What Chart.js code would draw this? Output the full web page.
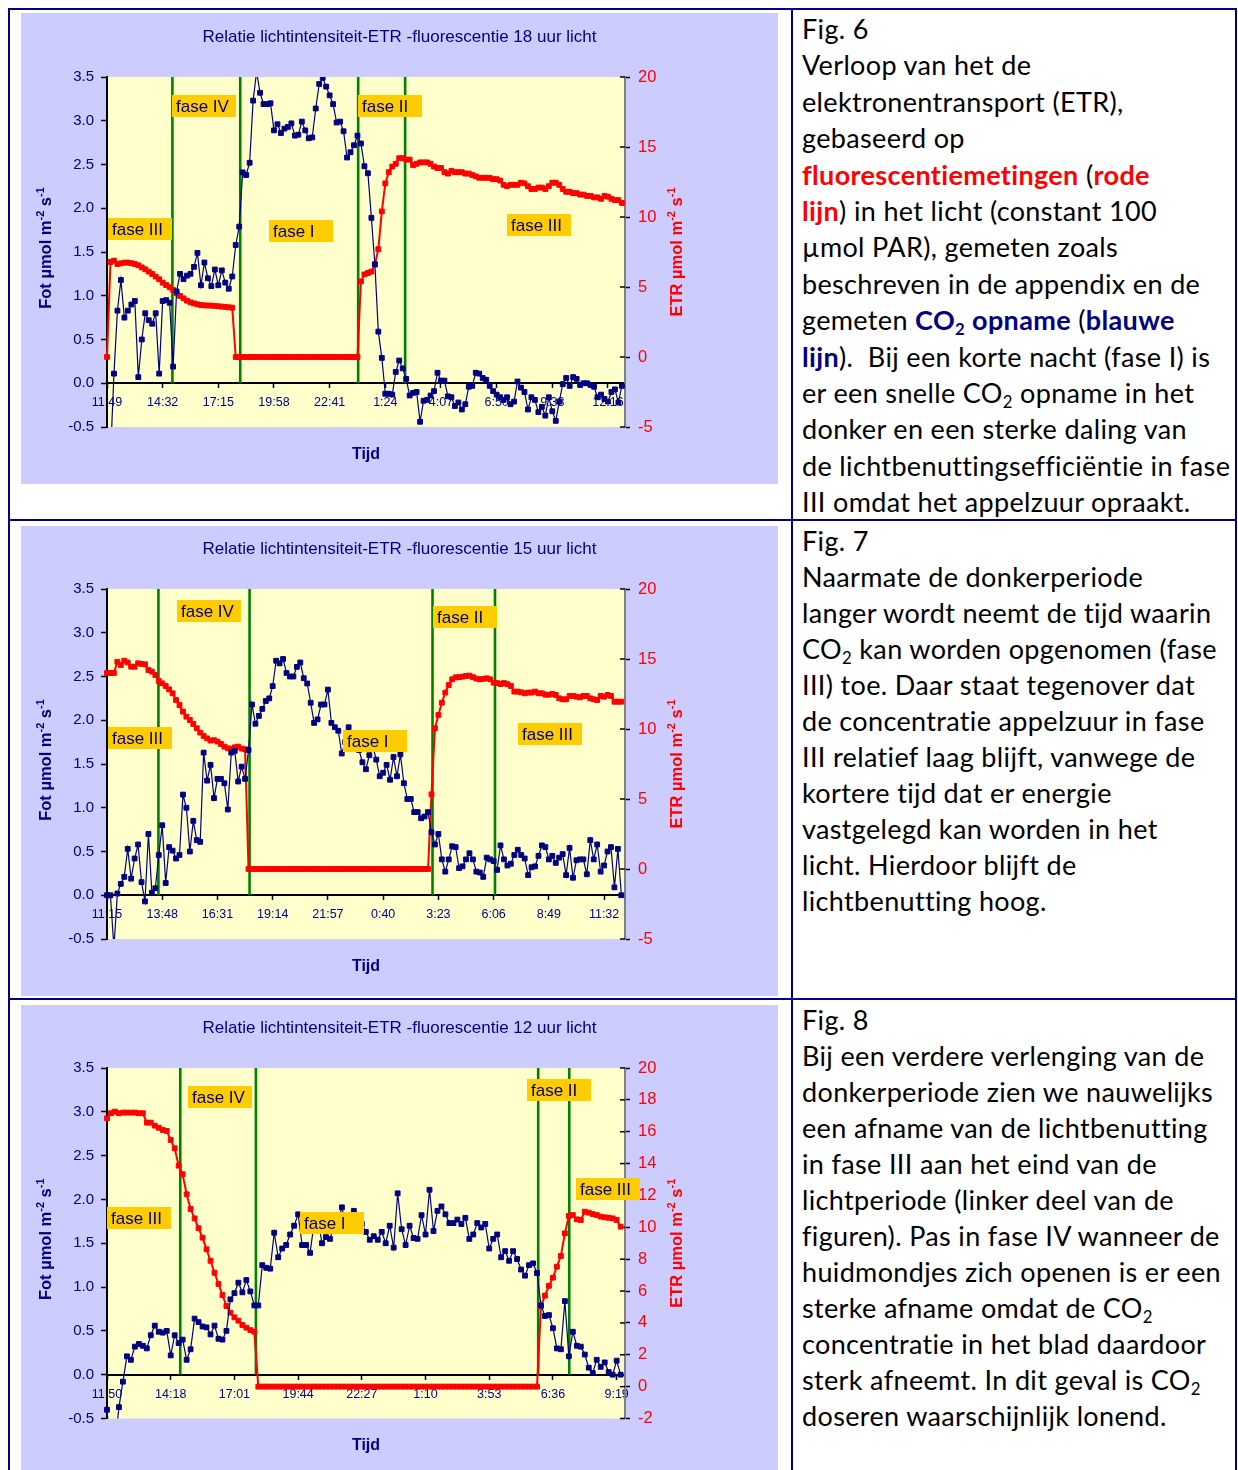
<!DOCTYPE html>
<html lang="nl">
<head>
<meta charset="utf-8">
<title>Relatie lichtintensiteit-ETR -fluorescentie</title>
<script src="https://cdn.jsdelivr.net/npm/chart.js@4.4.1/dist/chart.umd.min.js"></script>
<style>
  html, body { margin: 0; padding: 0; background: #fff; }
  #page { position: relative; width: 1238px; height: 1470px; overflow: hidden; background: #fff; }
  .rule { position: absolute; background: #000080; }
  canvas { position: absolute; display: block; }
  .note { position: absolute; left: 802px; font-family: Lato, "Open Sans", sans-serif; font-size: 27px;
          letter-spacing: 0.35px; font-variant-ligatures: none; font-feature-settings: "liga" 0;
          line-height: 36px; color: #000; white-space: nowrap; }
  .note.first { line-height: 36.4px; }
  .note b.r { color: #ff0000; }
  .note b.n { color: #000080; }
  .note sub { font-size: 0.62em; vertical-align: -0.3em; line-height: 0; }
</style>
</head>
<body>
<div id="page">
  <div class="rule" style="left:8px;top:8px;width:1229px;height:2px"></div>
  <div class="rule" style="left:8px;top:519px;width:1229px;height:2px"></div>
  <div class="rule" style="left:8px;top:998px;width:1229px;height:2px"></div>
  <div class="rule" style="left:8px;top:8px;width:2px;height:1462px"></div>
  <div class="rule" style="left:791px;top:8px;width:2px;height:1462px"></div>
  <div class="rule" style="left:1235px;top:8px;width:2px;height:1462px"></div>

  <canvas id="fig6" width="757" height="471" style="left:21px;top:13px"></canvas>
  <canvas id="fig7" width="757" height="470" style="left:21px;top:526px"></canvas>
  <canvas id="fig8" width="757" height="465" style="left:21px;top:1005px"></canvas>

  <div class="note first" style="top:11px">Fig. 6<br>
Verloop van het de<br>
elektronentransport (ETR),<br>
gebaseerd op<br>
<b class="r">fluorescentiemetingen</b> (<b class="r">rode</b><br>
<b class="r">lijn</b>) in het licht (constant 100<br>
µmol PAR), gemeten zoals<br>
beschreven in de appendix en de<br>
gemeten <b class="n">CO<sub>2</sub> opname</b> (<b class="n">blauwe</b><br>
<b class="n">lijn</b>).&nbsp; Bij een korte nacht (fase I) is<br>
er een snelle CO<sub>2</sub> opname in het<br>
donker en een sterke daling van<br>
de lichtbenuttingsefficiëntie in fase<br>
III omdat het appelzuur opraakt.</div>

  <div class="note" style="top:523px">Fig. 7<br>
Naarmate de donkerperiode<br>
langer wordt neemt de tijd waarin<br>
CO<sub>2</sub> kan worden opgenomen (fase<br>
III) toe. Daar staat tegenover dat<br>
de concentratie appelzuur in fase<br>
III relatief laag blijft, vanwege de<br>
kortere tijd dat er energie<br>
vastgelegd kan worden in het<br>
licht. Hierdoor blijft de<br>
lichtbenutting hoog.</div>

  <div class="note" style="top:1002px">Fig. 8<br>
Bij een verdere verlenging van de<br>
donkerperiode zien we nauwelijks<br>
een afname van de lichtbenutting<br>
in fase III aan het eind van de<br>
lichtperiode (linker deel van de<br>
figuren). Pas in fase IV wanneer de<br>
huidmondjes zich openen is er een<br>
sterke afname omdat de CO<sub>2</sub><br>
concentratie in het blad daardoor<br>
sterk afneemt. In dit geval is CO<sub>2</sub><br>
doseren waarschijnlijk lonend.</div>
</div>

<script>
// ---- Fig. 6: 18 uur licht -------------------------------------------------
const fig6Times = ['11:49', '14:32', '17:15', '19:58', '22:41', '1:24', '4:07', '6:50', '9:33', '12:16'];
// CO2 opname (Fot µmol m-2 s-1), one sample per interval
const fig6Co2 = [
  -0.90, -0.85, 0.11, 0.83, 1.18, 0.75, 0.83, 0.90, 0.94, 0.07,
  0.50, 0.80, 0.72, 0.68, 0.80, 0.11, 0.94, 0.95, 0.92, 0.19,
  1.05, 1.25, 1.19, 1.23, 1.25, 1.33, 1.49, 1.12, 1.38, 1.20,
  1.11, 1.30, 1.12, 1.29, 1.15, 1.08, 1.22, 1.58, 1.79, 2.41,
  2.38, 2.52, 3.23, 3.56, 3.32, 3.19, 3.19, 3.20, 2.89, 2.96,
  2.86, 2.91, 2.93, 2.97, 2.83, 2.84, 2.99, 2.89, 2.80, 2.81,
  3.14, 3.42, 3.49, 3.39, 3.29, 3.19, 2.98, 2.99, 2.88, 2.58,
  2.64, 2.72, 2.83, 2.74, 2.48, 2.40, 1.89, 1.36, 0.59, 0.29,
  -0.12, -0.12, -0.13, 0.13, 0.26, 0.17, 0.05, -0.14, -0.11, -0.10,
  -0.44, -0.20, -0.19, -0.14, -0.09, 0.12, 0.03, 0.03, -0.15, -0.16,
  -0.26, -0.22, -0.30, -0.24, -0.04, -0.03, 0.12, 0.11, 0.06, 0.04,
  -0.03, -0.09, -0.13, -0.16, -0.19, -0.16, -0.24, -0.21, 0.02, -0.05,
  -0.10, -0.30, -0.16, -0.19, -0.33, -0.27, -0.37, -0.16, -0.32, -0.43,
  -0.21, -0.01, 0.06, -0.03, 0.07, 0.05, -0.02, 0.00, 0.00, -0.02,
  -0.04, -0.16, -0.13, -0.18, -0.21, -0.10, -0.07, -0.22, -0.03
];
// ETR (µmol m-2 s-1) from fluorescence
const fig6Etr = [
  0, 6.79, 6.88, 6.64, 6.69, 6.74, 6.74, 6.70, 6.64, 6.55,
  6.40, 6.26, 6.10, 5.93, 5.74, 5.55, 5.31, 5.14, 4.98, 4.79,
  4.55, 4.36, 4.19, 4.02, 3.90, 3.83, 3.76, 3.71, 3.69, 3.67,
  3.67, 3.65, 3.62, 3.60, 3.58, 3.55, 3.52, 0, 0, 0,
  0, 0, 0, 0, 0, 0, 0, 0, 0, 0,
  0, 0, 0, 0, 0, 0, 0, 0, 0, 0,
  0, 0, 0, 0, 0, 0, 0, 0, 0, 0,
  0, 0, 0, 5.4, 5.9, 6.0, 6.1, 6.6, 7.7, 10.4,
  12.4, 13.2, 13.6, 13.8, 14.2, 14.2, 14.1, 14.1, 13.7, 13.8,
  13.9, 13.9, 13.9, 13.8, 13.6, 13.5, 13.5, 13.2, 13.1, 13.3,
  13.2, 13.2, 13.2, 13.1, 13.1, 13.0, 12.9, 12.8, 12.8, 12.8,
  12.8, 12.7, 12.7, 12.6, 12.3, 12.2, 12.3, 12.3, 12.3, 12.45,
  12.4, 12.2, 12.0, 12.0, 12.1, 12.1, 12.0, 12.2, 12.45, 12.45,
  12.3, 12.0, 11.8, 11.8, 11.7, 11.7, 11.6, 11.6, 11.5, 11.5,
  11.4, 11.4, 11.3, 11.5, 11.45, 11.3, 11.2, 11.2, 11.0
];
// phase boundaries, in sample numbers
const fig6Edges = [18.8, 38.3, 72.2, 85.7];

// ---- Fig. 7: 15 uur licht -------------------------------------------------
const fig7Times = ['11:15', '13:48', '16:31', '19:14', '21:57', '0:40', '3:23', '6:06', '8:49', '11:32'];
const fig7Co2 = [
  0.00, 0.00, -0.60, 0.02, 0.13, 0.21, 0.53, 0.19, 0.42, 0.58,
  0.15, -0.07, 0.70, 0.03, 0.08, 0.46, 0.80, 0.14, 0.55, 0.51,
  0.42, 0.46, 1.15, 1.00, 0.50, 0.85, 0.63, 0.61, 1.63, 1.31,
  1.49, 1.11, 1.33, 1.33, 1.28, 0.98, 1.63, 1.65, 1.30, 1.47,
  1.33, 1.66, 2.18, 1.96, 2.05, 2.13, 2.22, 2.25, 2.39, 2.68,
  2.65, 2.70, 2.54, 2.50, 2.50, 2.61, 2.66, 2.48, 2.42, 2.20,
  1.97, 2.01, 2.18, 2.18, 2.35, 1.97, 1.92, 1.88, 1.62, 1.75,
  1.92, 1.78, 1.72, 1.66, 1.52, 1.44, 1.60, 1.70, 1.55, 1.36,
  1.40, 1.49, 1.32, 1.58, 1.36, 1.61, 1.28, 1.10, 1.10, 0.95,
  0.95, 0.88, 0.90, 0.95, 0.72, 0.58, 0.70, 0.41, 0.27, 0.41,
  0.56, 0.55, 0.31, 0.33, 0.41, 0.48, 0.41, 0.27, 0.26, 0.21,
  0.43, 0.41, 0.39, 0.29, 0.57, 0.41, 0.34, 0.36, 0.46, 0.52,
  0.46, 0.42, 0.23, 0.32, 0.33, 0.45, 0.57, 0.55, 0.41, 0.45,
  0.37, 0.43, 0.47, 0.23, 0.54, 0.20, 0.40, 0.41, 0.41, 0.24,
  0.63, 0.41, 0.58, 0.27, 0.34, 0.50, 0.55, 0.09, 0.53, 0.00
];
const fig7Etr = [
  14.0, 14.0, 14.0, 14.8, 14.57, 14.88, 14.75, 14.45, 14.45, 14.69,
  14.65, 14.62, 14.21, 14.1, 13.86, 13.43, 13.26, 13.07, 12.83, 12.55,
  12.07, 11.71, 11.24, 10.88, 10.64, 10.36, 10.05, 9.74, 9.5, 9.33,
  9.17, 9.2, 9.1, 8.93, 8.74, 8.62, 8.57, 8.69, 8.74, 8.6,
  8.55, 0, 0, 0, 0, 0, 0, 0, 0, 0,
  0, 0, 0, 0, 0, 0, 0, 0, 0, 0,
  0, 0, 0, 0, 0, 0, 0, 0, 0, 0,
  0, 0, 0, 0, 0, 0, 0, 0, 0, 0,
  0, 0, 0, 0, 0, 0, 0, 0, 0, 0,
  0, 0, 0, 0, 5.33, 10.05, 11.0, 11.88, 12.6, 13.14,
  13.55, 13.69, 13.7, 13.74, 13.79, 13.81, 13.7, 13.6, 13.55, 13.58,
  13.62, 13.55, 13.31, 13.28, 13.21, 13.28, 13.2, 13.07, 12.67, 12.67,
  12.62, 12.55, 12.6, 12.6, 12.67, 12.55, 12.55, 12.45, 12.45, 12.5,
  12.43, 12.19, 12.12, 12.12, 12.36, 12.36, 12.31, 12.26, 12.36, 12.36,
  12.19, 12.12, 12.07, 12.36, 12.31, 12.43, 12.36, 11.95, 11.95, 11.95
];
const fig7Edges = [14.9, 41.3, 94.3, 112.4];

// ---- Fig. 8: 12 uur licht -------------------------------------------------
const fig8Times = ['11:50', '14:18', '17:01', '19:44', '22:27', '1:10', '3:53', '6:36', '9:19'];
const fig8Co2 = [
  -0.40, -0.90, -0.80, -0.37, -0.08, 0.21, 0.17, 0.32, 0.35, 0.33,
  0.30, 0.45, 0.56, 0.49, 0.48, 0.50, 0.22, 0.45, 0.36, 0.40,
  0.17, 0.29, 0.64, 0.60, 0.55, 0.54, 0.46, 0.56, 0.41, 0.40,
  0.50, 0.86, 0.93, 1.05, 0.94, 1.08, 0.95, 0.79, 0.79, 1.25,
  1.22, 1.21, 1.62, 1.34, 1.44, 1.48, 1.60, 1.70, 1.83, 1.48,
  1.48, 1.39, 1.72, 1.78, 1.50, 1.57, 1.55, 1.70, 1.76, 1.91,
  1.70, 1.75, 1.87, 1.80, 1.72, 1.63, 1.54, 1.58, 1.54, 1.63,
  1.50, 1.70, 1.45, 2.07, 1.66, 1.48, 1.70, 1.56, 1.55, 1.82,
  1.60, 2.11, 1.64, 1.87, 1.92, 1.83, 1.73, 1.73, 1.77, 1.72,
  1.79, 1.55, 1.60, 1.73, 1.68, 1.72, 1.44, 1.55, 1.60, 1.34,
  1.41, 1.30, 1.41, 1.32, 1.20, 1.13, 1.25, 1.27, 1.16, 0.79,
  0.67, 0.68, 0.53, 0.30, 0.29, 0.84, 0.21, 0.49, 0.33, 0.32,
  0.23, 0.08, 0.02, 0.17, 0.09, 0.14, 0.03, 0.00, 0.16, 0.00
];
const fig8Etr = [
  16.84, 17.16, 17.26, 17.16, 17.2, 17.2, 17.2, 17.2, 17.16, 17.16,
  16.57, 16.57, 16.38, 16.25, 16.11, 16.05, 15.48, 14.96, 13.87, 13.33,
  12.07, 11.15, 10.56, 9.94, 9.35, 8.62, 7.9, 7.15, 6.44, 5.75,
  5.06, 4.64, 4.35, 4.14, 3.87, 3.7, 3.55, 3.45, 0, 0,
  0, 0, 0, 0, 0, 0, 0, 0, 0, 0,
  0, 0, 0, 0, 0, 0, 0, 0, 0, 0,
  0, 0, 0, 0, 0, 0, 0, 0, 0, 0,
  0, 0, 0, 0, 0, 0, 0, 0, 0, 0,
  0, 0, 0, 0, 0, 0, 0, 0, 0, 0,
  0, 0, 0, 0, 0, 0, 0, 0, 0, 0,
  0, 0, 0, 0, 0, 0, 0, 0, 0, 5.06,
  5.71, 6.33, 6.84, 7.53, 8.2, 9.62, 10.71, 10.77, 10.5, 10.46,
  10.98, 10.92, 10.83, 10.77, 10.67, 10.63, 10.6, 10.56, 10.46, 10.04
];
const fig8Edges = [18.4, 37.4, 108.3, 116.1];

// ---- drawing ----------------------------------------------------------------
const NAVY = '#000080', RED = '#ff0000', GREEN = '#008000';
const LAVENDER = '#ccccff', PAPER = '#ffffcc', TAG = '#ffcc00';
const SANS = '"Liberation Sans", Arial, Helvetica, sans-serif';
const SAMPLES_PER_LABEL = 16;

// text with raised exponents, e.g. "m-2 s-1"
function drawRich(ctx, parts, cx, cy, angle, color) {
  const big = 'bold 16.5px ' + SANS, small = 'bold 11px ' + SANS;
  ctx.save();
  ctx.translate(cx, cy);
  ctx.rotate(angle);
  ctx.fillStyle = color;
  ctx.textAlign = 'left';
  ctx.textBaseline = 'alphabetic';
  let w = 0;
  parts.forEach(p => { ctx.font = p.sup ? small : big; w += ctx.measureText(p.t).width; });
  let x = -w / 2;
  parts.forEach(p => {
    ctx.font = p.sup ? small : big;
    ctx.fillText(p.t, x, p.sup ? -1 : 6);
    x += ctx.measureText(p.t).width;
  });
  ctx.restore();
}

function decorations(spec) {
  return {
    id: 'decor',
    beforeDraw(chart) {
      const { ctx, width, height, chartArea: a } = chart;
      ctx.save();
      ctx.fillStyle = LAVENDER;
      ctx.fillRect(0, 0, width, height);
      ctx.fillStyle = PAPER;
      ctx.fillRect(a.left, a.top, a.right - a.left, a.bottom - a.top);
      ctx.restore();
    },
    beforeDatasetsDraw(chart) {
      // inner half of the crossing tick marks on the ETR axis
      const s = chart.scales.y2, ctx = chart.ctx;
      ctx.save();
      ctx.strokeStyle = '#000';
      ctx.lineWidth = 1.5;
      s.ticks.forEach(t => {
        const y = s.getPixelForValue(t.value);
        ctx.beginPath();
        ctx.moveTo(s.left - 5, y);
        ctx.lineTo(s.left, y);
        ctx.stroke();
      });
      ctx.restore();
    },
    afterDatasetsDraw(chart) {
      const { ctx, scales: { x, y } } = chart;
      ctx.save();
      ctx.font = '17px ' + SANS;
      ctx.textAlign = 'left';
      ctx.textBaseline = 'middle';
      spec.tags.forEach(t => {
        const px = Math.round(x.getPixelForValue(t.x));
        const py = Math.round(y.getPixelForValue(t.y));
        ctx.fillStyle = TAG;
        ctx.fillRect(px, py, 64, 22);
        ctx.fillStyle = NAVY;
        ctx.fillText(t.text, px + 4, py + 12);
      });
      ctx.restore();
    },
    afterDraw(chart) {
      const { ctx, width, chartArea: a } = chart;
      const midY = (a.top + a.bottom) / 2;
      ctx.save();
      ctx.fillStyle = NAVY;
      ctx.font = '17px ' + SANS;
      ctx.textAlign = 'center';
      ctx.textBaseline = 'middle';
      ctx.fillText(spec.title, width / 2, spec.titleY);
      ctx.font = 'bold 16px ' + SANS;
      ctx.fillText('Tijd', (a.left + a.right) / 2, spec.tijdY);
      ctx.restore();
      const unit = [{ t: ' µmol m' }, { t: '-2', sup: true }, { t: ' s' }, { t: '-1', sup: true }];
      drawRich(ctx, [{ t: 'Fot' }].concat(unit), 24, midY - 4, -Math.PI / 2, NAVY);
      drawRich(ctx, [{ t: 'ETR' }].concat(unit), 655, midY, -Math.PI / 2, RED);
    }
  };
}

function makeChart(id, spec) {
  const co2Points = spec.co2.map((v, i) => ({ x: i, y: v }));
  const etrPoints = spec.etr.map((v, i) => ({ x: i, y: v }));
  const edgeSets = spec.edges.map(e => ({
    data: [{ x: e, y: 0 }, { x: e, y: 3.5 }],
    yAxisID: 'y', borderColor: GREEN, borderWidth: 2.6, pointRadius: 0, order: 3, clip: false
  }));
  const markerClip = { left: 5, right: 5, top: 0, bottom: 0 };
  return new Chart(document.getElementById(id), {
    type: 'line',
    data: {
      datasets: [
        { label: 'CO2 opname', data: co2Points, yAxisID: 'y', order: 1,
          borderColor: NAVY, borderWidth: 1.2, pointStyle: 'rect', pointRadius: 3.4,
          pointBackgroundColor: NAVY, pointBorderColor: NAVY, pointBorderWidth: 1, clip: markerClip },
        { label: 'ETR', data: etrPoints, yAxisID: 'y2', order: 2,
          borderColor: RED, borderWidth: 2, pointStyle: 'rect', pointRadius: 3.4,
          pointBackgroundColor: RED, pointBorderColor: RED, pointBorderWidth: 1, clip: markerClip },
        ...edgeSets
      ]
    },
    options: {
      responsive: false, animation: false, devicePixelRatio: 1, events: [],
      layout: { padding: { top: spec.padTop, bottom: spec.padBottom, left: 0, right: 0 } },
      plugins: { legend: { display: false }, tooltip: { enabled: false }, title: { display: false } },
      scales: {
        x: {
          type: 'linear', axis: 'x', position: { y: 0 }, min: 0, max: spec.xMax, offset: false,
          afterBuildTicks: s => { s.ticks = spec.times.map((_, k) => ({ value: k * SAMPLES_PER_LABEL })); },
          ticks: { autoSkip: false, maxRotation: 0, color: NAVY, padding: 8,
                   font: { family: SANS, size: 12.5 }, callback: (v, k) => spec.times[k] },
          grid: { drawOnChartArea: false, drawTicks: true, tickLength: 4, tickColor: '#000', tickWidth: 1.5 },
          border: { display: true, color: '#000', width: 2 }
        },
        y: {
          type: 'linear', position: 'left', min: -0.5, max: 3.5,
          afterFit: s => { s.width = 86; },
          ticks: { stepSize: 0.5, color: NAVY, padding: 7, font: { family: SANS, size: 15 },
                   callback: v => v.toFixed(1) },
          grid: { drawOnChartArea: false, tickLength: 6, tickColor: '#000', tickWidth: 1.5 },
          border: { color: '#000', width: 2 }
        },
        y2: {
          type: 'linear', position: 'right', min: spec.etrMin, max: 20,
          afterFit: s => { s.width = 153; },
          ticks: { stepSize: spec.etrStep, color: RED, padding: 8, font: { family: SANS, size: 16.5 } },
          grid: { drawOnChartArea: false, tickLength: 5, tickColor: '#000', tickWidth: 1.5 },
          border: { color: '#808080', width: 2 }
        }
      }
    },
    plugins: [decorations(spec)]
  });
}

makeChart('fig6', {
  title: 'Relatie lichtintensiteit-ETR -fluorescentie 18 uur licht',
  times: fig6Times, co2: fig6Co2, etr: fig6Etr, edges: fig6Edges,
  xMax: 148.9, etrMin: -5, etrStep: 5, padTop: 64, padBottom: 57, titleY: 24, tijdY: 442,
  tags: [
    { text: 'fase IV', x: 18.7, y: 3.29 }, { text: 'fase II', x: 72.1, y: 3.29 },
    { text: 'fase III', x: 0.2, y: 1.89 }, { text: 'fase I', x: 46.6, y: 1.86 },
    { text: 'fase III', x: 114.9, y: 1.93 }
  ]
});
makeChart('fig7', {
  title: 'Relatie lichtintensiteit-ETR -fluorescentie 15 uur licht',
  times: fig7Times, co2: fig7Co2, etr: fig7Etr, edges: fig7Edges,
  xMax: 150.06, etrMin: -5, etrStep: 5, padTop: 63, padBottom: 57, titleY: 23, tijdY: 441,
  tags: [
    { text: 'fase IV', x: 20.3, y: 3.37 }, { text: 'fase III', x: 0.2, y: 1.92 },
    { text: 'fase I', x: 68.3, y: 1.89 }, { text: 'fase II', x: 94.3, y: 3.31 },
    { text: 'fase III', x: 119.2, y: 1.97 }
  ]
});
makeChart('fig8', {
  title: 'Relatie lichtintensiteit-ETR -fluorescentie 12 uur licht',
  times: fig8Times, co2: fig8Co2, etr: fig8Etr, edges: fig8Edges,
  xMax: 130.1, etrMin: -2, etrStep: 2, padTop: 63, padBottom: 51.5, titleY: 23, tijdY: 441,
  tags: [
    { text: 'fase IV', x: 20.3, y: 3.30 }, { text: 'fase III', x: 0, y: 1.91 },
    { text: 'fase I', x: 48.5, y: 1.86 }, { text: 'fase II', x: 105.4, y: 3.38 },
    { text: 'fase III', x: 117.8, y: 2.24 }
  ]
});
</script>
</body>
</html>
